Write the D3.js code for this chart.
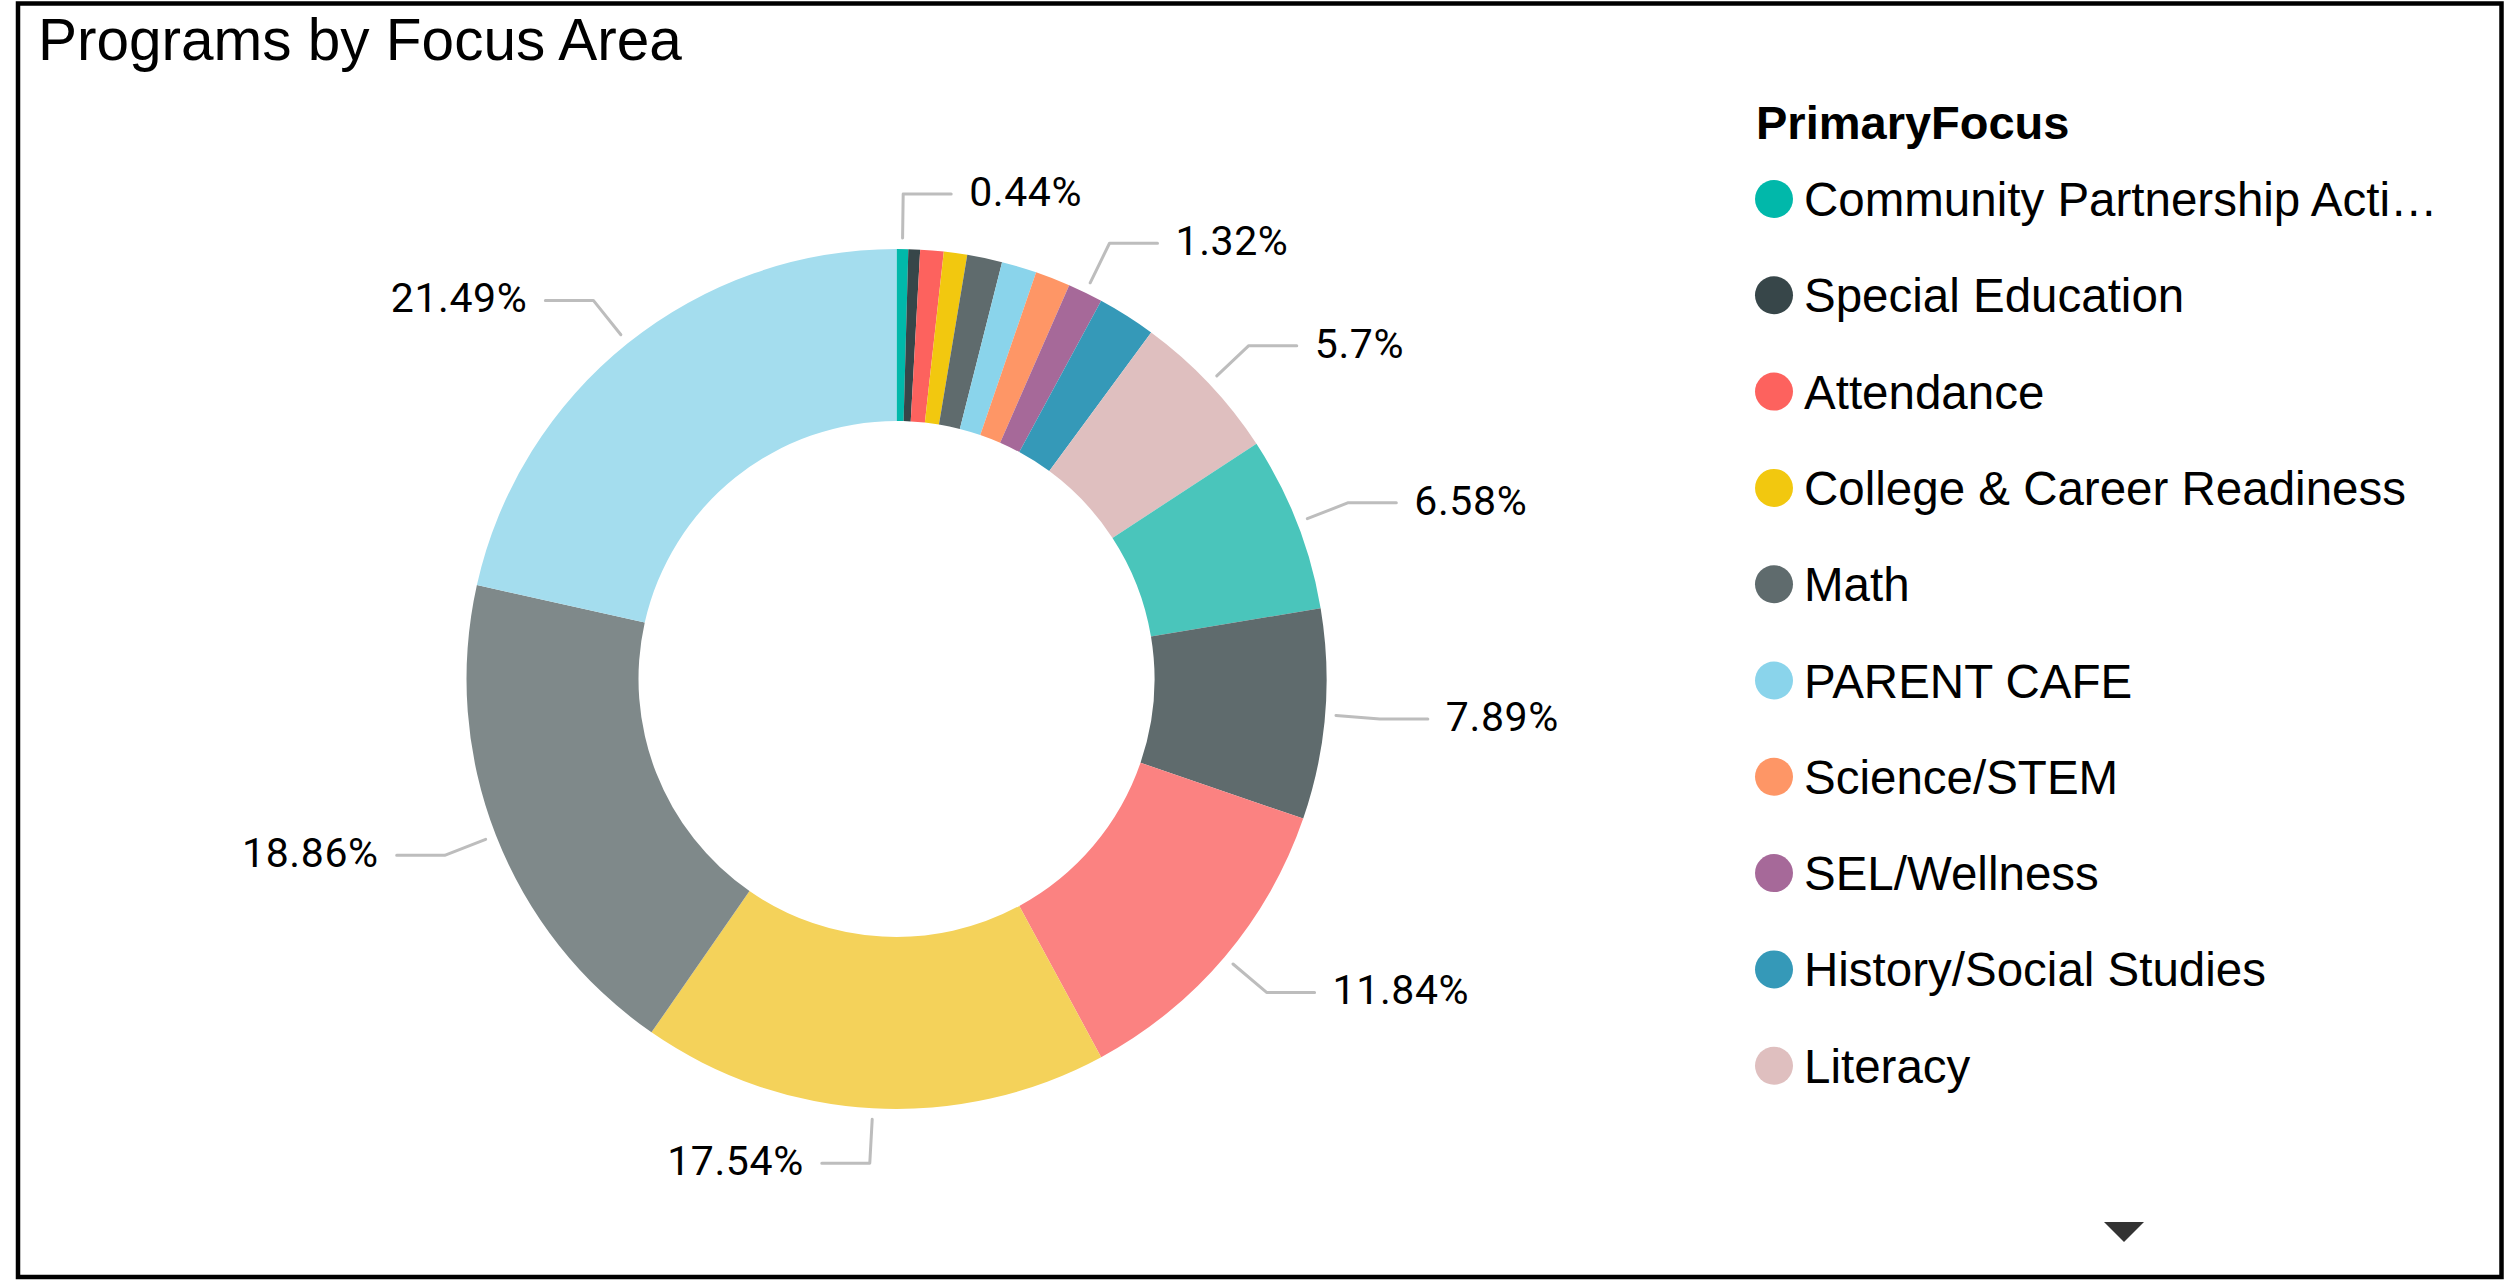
<!DOCTYPE html>
<html>
<head>
<meta charset="utf-8">
<script src="https://cdn.jsdelivr.net/npm/d3@7"></script>
<style>
  html, body { margin: 0; padding: 0; background: #fff; }
  svg { display: block; }
</style>
</head>
<body>
<svg id="chart" width="2510" height="1287"></svg>
<script>
// ---- Data ----
const title = "Programs by Focus Area";
const legendTitle = "PrimaryFocus";
// Legend in the reference shows the first 10 categories; the rest are scrolled out of view.
const categories = [
  "Community Partnership Activities",
  "Special Education",
  "Attendance",
  "College & Career Readiness",
  "Math",
  "PARENT CAFE",
  "Science/STEM",
  "SEL/Wellness",
  "History/Social Studies",
  "Literacy",
  "Category 11",
  "Category 12",
  "Category 13",
  "Category 14",
  "Category 15",
  "Category 16"
];
const counts = [1, 1, 2, 2, 3, 3, 3, 3, 5, 13, 15, 18, 27, 40, 43, 49];
const colors = [
  "#01B8AA", "#374649", "#FD625E", "#F2C80F", "#5F6B6D", "#8AD4EB",
  "#FE9666", "#A66999", "#3599B8", "#DFBFBF", "#4AC5BB", "#5F6B6D",
  "#FB8281", "#F4D25A", "#7F898A", "#A4DDEE"
];
const legendVisibleCount = 10;

// ---- Layout ----
const cx = 896.5, cy = 679;
const rOuter = 430, rInner = 258;

const svg = d3.select("#chart");

// frame
svg.append("rect")
  .attr("x", 18).attr("y", 3.5)
  .attr("width", 2483.5).attr("height", 1273.5)
  .attr("fill", "none").attr("stroke", "#000").attr("stroke-width", 4.5);

// title
svg.append("text")
  .attr("x", 38).attr("y", 60)
  .attr("font-family", "'Liberation Sans', Arial, sans-serif")
  .attr("font-size", 58.5)
  .attr("fill", "#000")
  .text(title);

const total = d3.sum(counts);
const data = categories.map((c, i) => ({ name: c, value: counts[i] }));

const color = d3.scaleOrdinal().domain(categories).range(colors);

const pie = d3.pie().value(d => d.value).sort(null).startAngle(0).endAngle(2 * Math.PI);
const arc = d3.arc().innerRadius(rInner).outerRadius(rOuter);
const arcs = pie(data);

const g = svg.append("g").attr("transform", `translate(${cx},${cy})`);

g.selectAll("path.slice")
  .data(arcs)
  .enter().append("path")
  .attr("class", "slice")
  .attr("d", arc)
  .attr("fill", d => color(d.data.name));

// labels with leader lines
const fmt = v => {
  let s = (v * 100).toFixed(2);
  s = s.replace(/0+$/, "").replace(/\.$/, "");
  return s + "%";
};
const lineStartArc = d3.arc().innerRadius(rOuter + 11).outerRadius(rOuter + 11);
const elbowArc = d3.arc().innerRadius(rOuter + 55).outerRadius(rOuter + 55);

let lastRight = -Infinity;
const labelItems = [];
arcs.forEach(d => {
  const mid = (d.startAngle + d.endAngle) / 2;
  const side = mid < Math.PI ? "right" : "left";
  const p0 = lineStartArc.centroid(d);
  const p1 = elbowArc.centroid(d);
  let show = true;
  if (side === "right") {
    show = (p1[1] - lastRight >= 45);
    if (show) lastRight = p1[1];
  }
  if (show) labelItems.push({ d, side, p0, p1 });
});
// left side: check going upward from the bottom
(function () {
  let prev = Infinity;
  labelItems.filter(l => l.side === "left").forEach(l => {
    if (prev - l.p1[1] < 45) l.hide = true; else prev = l.p1[1];
  });
})();

const labels = g.selectAll("g.label")
  .data(labelItems.filter(l => !l.hide))
  .enter().append("g").attr("class", "label");

labels.append("polyline")
  .attr("points", l => {
    const dir = l.side === "right" ? 1 : -1;
    const p2 = [l.p1[0] + dir * 48, l.p1[1]];
    return [l.p0, l.p1, p2].map(p => p.join(",")).join(" ");
  })
  .attr("fill", "none")
  .attr("stroke", "#BDBDBD")
  .attr("stroke-width", 3)
  .attr("stroke-linecap", "round")
  .attr("stroke-linejoin", "round");

labels.append("text")
  .attr("x", l => l.p1[0] + (l.side === "right" ? 1 : -1) * (48 + 18))
  .attr("y", l => l.p1[1] + 12)
  .attr("text-anchor", l => l.side === "right" ? "start" : "end")
  .attr("font-family", "Roboto, 'DejaVu Sans', sans-serif")
  .attr("font-size", 41)
  .attr("letter-spacing", 0.6)
  .attr("fill", "#000")
  .text(l => fmt(l.d.data.value / total));

// legend
const lg = svg.append("g");
lg.append("text")
  .attr("x", 1756).attr("y", 139)
  .attr("font-family", "'Liberation Sans', Arial, sans-serif")
  .attr("font-size", 47)
  .attr("font-weight", "bold")
  .attr("fill", "#000")
  .text(legendTitle);

const legendStep = 96.3;
const legendData = data.slice(0, legendVisibleCount);
const items = lg.selectAll("g.item")
  .data(legendData)
  .enter().append("g").attr("class", "item")
  .attr("transform", (d, i) => `translate(0, ${199 + i * legendStep})`);

items.append("circle")
  .attr("cx", 1774).attr("cy", 0).attr("r", 19)
  .attr("fill", d => color(d.name));

const maxLegendW = 640;
items.append("text")
  .attr("x", 1804).attr("y", 17)
  .attr("font-family", "'Liberation Sans', Arial, sans-serif")
  .attr("font-size", 47.5)
  .attr("fill", "#000")
  .each(function (d) {
    const t = d3.select(this);
    t.text(d.name);
    if (this.getComputedTextLength() > maxLegendW) {
      let s = d.name;
      while (s.length > 1) {
        s = s.slice(0, -1);
        t.text(s.trimEnd() + "…");
        if (this.getComputedTextLength() <= maxLegendW) break;
      }
    }
  });

// scroll-down arrow
svg.append("path")
  .attr("d", d3.line()([[2104, 1222], [2144, 1222], [2124, 1242]]) + "Z")
  .attr("fill", "#333");
</script>
</body>
</html>
